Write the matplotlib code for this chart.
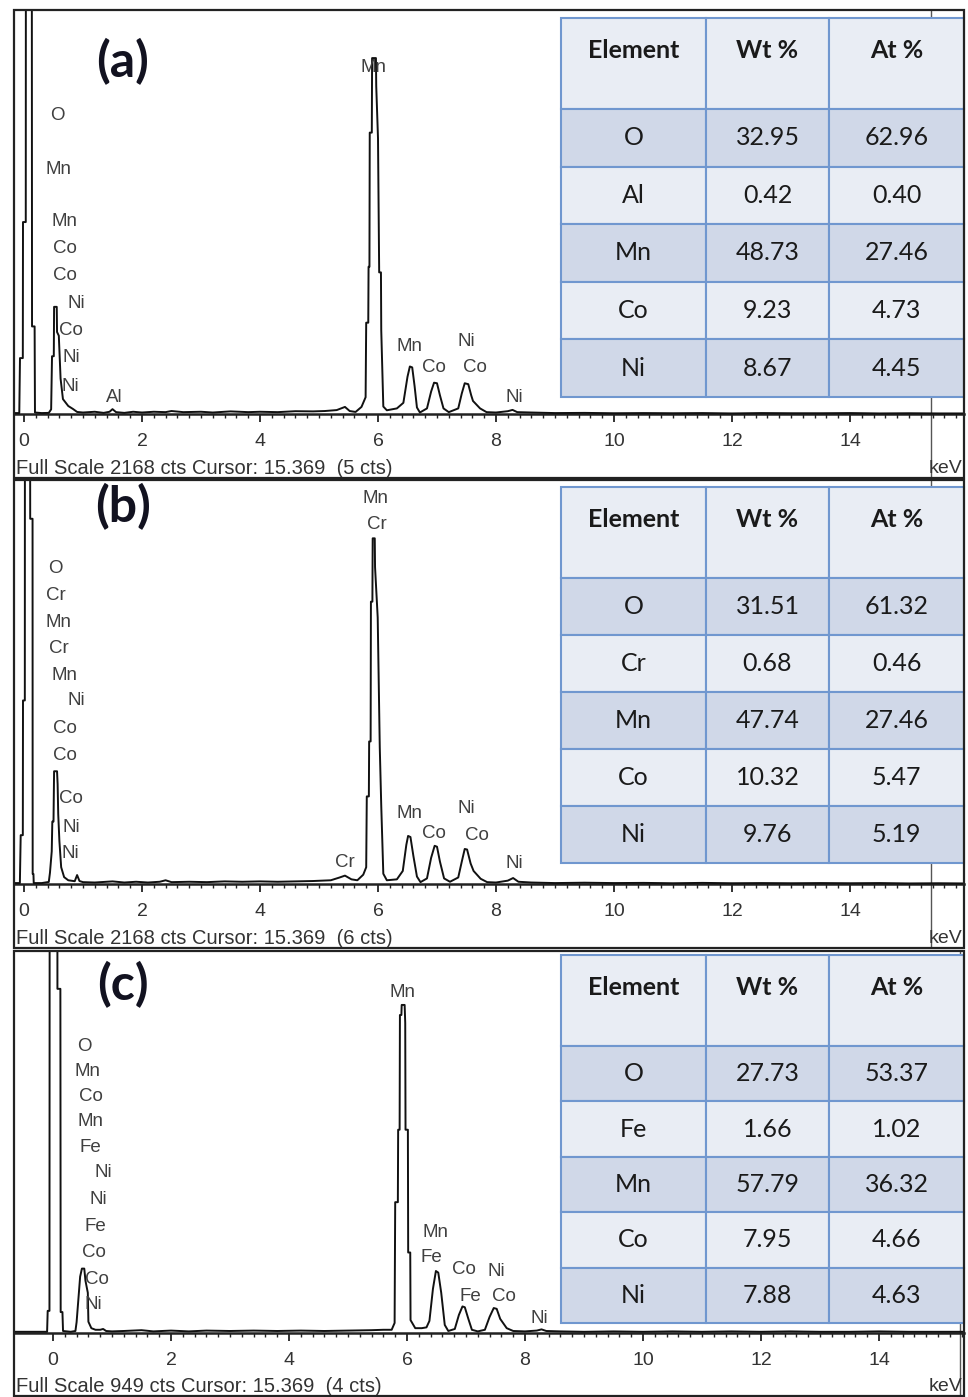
import numpy as np
import matplotlib.pyplot as plt
from matplotlib.patches import Rectangle

# ---- spectrum (a): energy (keV) and counts ----
a_kev = [-0.17, -0.08, -0.068, -0.02, -0.017, 0.03, 0.034, 0.13, 0.136, 0.18,
         0.186, 0.30, 0.42, 0.46, 0.475, 0.505, 0.51, 0.555, 0.56, 0.59,
         0.62, 0.66, 0.75, 0.83, 0.90, 1.0, 1.2, 1.35, 1.45, 1.50,
         1.56, 1.7, 1.85, 2.0, 2.2, 2.4, 2.5, 2.7, 3.0, 3.2,
         3.5, 3.8, 4.0, 4.3, 4.6, 4.9, 5.1, 5.3, 5.44, 5.52,
         5.62, 5.72, 5.79, 5.80, 5.835, 5.84, 5.855, 5.86, 5.895, 5.90,
         5.965, 5.97, 6.00, 6.02, 6.05, 6.055, 6.09, 6.15, 6.32, 6.43,
         6.50, 6.54, 6.58, 6.62, 6.66, 6.71, 6.83, 6.90, 6.95, 7.00,
         7.05, 7.11, 7.20, 7.36, 7.42, 7.47, 7.53, 7.58, 7.61, 7.73,
         7.84, 8.0, 8.2, 8.28, 8.36, 8.6, 9.0, 9.5, 10.0, 10.5,
         11.0, 11.5, 12.0, 12.5, 13.0, 13.5, 14.0, 14.5, 15.0, 15.5,
         15.93]
a_cts = [5, 5, 300, 300, 1030, 1030, 4000, 4000, 470, 470,
         8, 5, 6, 25, 310, 310, 575, 575, 440, 420,
         190, 80, 43, 27, 11, 8, 12, 6, 12, 26,
         10, 6, 12, 8, 12, 10, 16, 10, 12, 8,
         14, 10, 12, 10, 15, 14, 16, 21, 38, 16,
         11, 38, 90, 490, 490, 790, 790, 1510, 1510, 1910,
         1910, 1760, 1480, 760, 760, 450, 40, 20, 30, 60,
         200, 255, 250, 150, 35, 8, 30, 120, 168, 165,
         100, 30, 10, 30, 110, 165, 160, 100, 70, 30,
         10, 8, 15, 22, 10, 8, 5, 6, 4, 5,
         4, 5, 3, 5, 4, 4, 5, 3, 4, 3,
         3]

# ---- spectrum (b) ----
b_kev = [-0.17, -0.07, -0.056, -0.02, -0.017, 0.014, 0.017, 0.10, 0.105, 0.145,
         0.147, 0.16, 0.165, 0.30, 0.42, 0.44, 0.47, 0.48, 0.50, 0.51,
         0.56, 0.57, 0.58, 0.60, 0.63, 0.68, 0.75, 0.86, 0.90, 0.94,
         1.0, 1.2, 1.5, 1.7, 1.9, 2.1, 2.3, 2.4, 2.5, 2.8,
         3.1, 3.4, 3.7, 4.0, 4.3, 4.6, 4.9, 5.2, 5.35, 5.44,
         5.55, 5.65, 5.75, 5.80, 5.81, 5.845, 5.85, 5.875, 5.88, 5.905,
         5.91, 5.945, 5.95, 5.995, 6.03, 6.055, 6.09, 6.15, 6.32, 6.42,
         6.48, 6.51, 6.55, 6.60, 6.66, 6.72, 6.83, 6.90, 6.96, 7.00,
         7.05, 7.12, 7.22, 7.36, 7.42, 7.47, 7.51, 7.57, 7.62, 7.74,
         7.85, 8.0, 8.2, 8.29, 8.38, 8.6, 9.0, 9.5, 10.0, 10.5,
         11.0, 11.5, 12.0, 12.5, 13.0, 13.5, 14.0, 14.5, 15.0, 15.5,
         15.93]
b_cts = [5, 5, 262, 262, 985, 985, 4000, 4000, 1960, 1960,
         54, 54, 5, 5, 11, 60, 175, 335, 335, 605,
         605, 535, 375, 230, 90, 37, 20, 15, 48, 16,
         10, 8, 14, 8, 12, 8, 12, 20, 10, 12,
         10, 14, 12, 14, 12, 14, 16, 20, 35, 45,
         25, 20, 50, 90, 470, 470, 765, 765, 1515, 1515,
         1855, 1855, 1700, 1430, 733, 420, 55, 20, 25, 70,
         210, 258, 252, 150, 40, 10, 30, 140, 205, 200,
         120, 30, 12, 35, 120, 188, 185, 110, 70, 28,
         10, 8, 18, 32, 12, 8, 5, 7, 5, 6,
         4, 6, 4, 5, 4, 5, 4, 5, 3, 4,
         3]

# ---- spectrum (c) ----
c_kev = [-0.66, -0.10, -0.09, -0.06, -0.05, 0.07, 0.075, 0.125, 0.13, 0.16,
         0.17, 0.30, 0.38, 0.40, 0.46, 0.49, 0.53, 0.55, 0.59, 0.60,
         0.65, 0.72, 0.80, 0.85, 0.90, 1.0, 1.2, 1.5, 1.7, 2.0,
         2.3, 2.6, 3.0, 3.4, 3.8, 4.2, 4.6, 5.0, 5.4, 5.6,
         5.74, 5.79, 5.80, 5.845, 5.85, 5.875, 5.88, 5.905, 5.91, 5.96,
         5.97, 5.975, 6.015, 6.02, 6.055, 6.06, 6.14, 6.25, 6.33, 6.38,
         6.44, 6.49, 6.53, 6.58, 6.64, 6.70, 6.81, 6.88, 6.94, 6.98,
         7.04, 7.10, 7.20, 7.32, 7.40, 7.47, 7.52, 7.58, 7.69, 7.80,
         8.0, 8.2, 8.28, 8.36, 8.6, 9.0, 9.5, 10.0, 10.5, 11.0,
         11.5, 12.0, 12.5, 13.0, 13.5, 14.0, 14.5, 15.0, 15.44]
c_cts = [3, 3, 55, 55, 3000, 3000, 855, 855, 52, 52,
         5, 3, 5, 27, 140, 160, 160, 130, 100, 28,
         12, 8, 8, 10, 5, 4, 5, 7, 4, 6,
         4, 6, 5, 6, 5, 6, 5, 6, 7, 8,
         8, 25, 325, 325, 505, 505, 790, 790, 815, 815,
         770, 505, 505, 200, 200, 32, 12, 12, 14, 30,
         110, 154, 150, 100, 20, 5, 10, 45, 66, 64,
         35, 8, 4, 8, 40, 62, 60, 35, 12, 5,
         4, 6, 9, 5, 4, 3, 4, 3, 4, 3,
         4, 3, 4, 3, 3, 4, 3, 3, 3]

# ---- peak labels (text, keV, cts) ----
a_lbl = ['O', 'Mn', 'Mn', 'Co', 'Co', 'Ni', 'Co', 'Ni', 'Ni', 'Al',
         'Mn', 'Mn', 'Co', 'Ni', 'Co', 'Ni']
a_lbl_kev = [0.56, 0.59, 0.68, 0.69, 0.69, 0.88, 0.80, 0.80, 0.78, 1.53,
             5.93, 6.53, 6.95, 7.49, 7.64, 8.31]
a_lbl_cts = [1600, 1310, 1031, 886, 741, 591, 446, 301, 150, 86,
             1858, 360, 252, 387, 247, 91]

b_lbl = ['O', 'Cr', 'Mn', 'Cr', 'Mn', 'Ni', 'Co', 'Co', 'Co', 'Ni', 'Ni',
         'Mn', 'Cr', 'Cr', 'Mn', 'Co', 'Ni', 'Co', 'Ni']
b_lbl_kev = [0.54, 0.54, 0.59, 0.59, 0.68, 0.88, 0.69, 0.69, 0.80, 0.80, 0.78,
             5.95, 5.98, 5.44, 6.53, 6.95, 7.49, 7.68, 8.31]
b_lbl_cts = [1691, 1546, 1402, 1263, 1118, 984, 835, 690, 460, 305, 166,
             2070, 1931, 118, 380, 273, 407, 262, 112]

c_lbl = ['O', 'Mn', 'Co', 'Mn', 'Fe', 'Ni', 'Ni', 'Fe', 'Co', 'Co', 'Ni',
         'Mn', 'Mn', 'Fe', 'Co', 'Ni', 'Fe', 'Co', 'Ni']
c_lbl_kev = [0.54, 0.58, 0.64, 0.64, 0.64, 0.86, 0.76, 0.71, 0.69, 0.74, 0.68,
             5.93, 6.49, 6.42, 6.96, 7.51, 7.08, 7.64, 8.24]
c_lbl_cts = [712, 650, 588, 525, 461, 398, 331, 264, 199, 134, 70,
             847, 249, 187, 157, 152, 90, 90, 37]

# ---- composition tables ----
a_elem = ['O', 'Al', 'Mn', 'Co', 'Ni']
a_wt = [32.95, 0.42, 48.73, 9.23, 8.67]
a_at = [62.96, 0.40, 27.46, 4.73, 4.45]
b_elem = ['O', 'Cr', 'Mn', 'Co', 'Ni']
b_wt = [31.51, 0.68, 47.74, 10.32, 9.76]
b_at = [61.32, 0.46, 27.46, 5.47, 5.19]
c_elem = ['O', 'Fe', 'Mn', 'Co', 'Ni']
c_wt = [27.73, 1.66, 57.79, 7.95, 7.88]
c_at = [53.37, 1.02, 36.32, 4.66, 4.63]

full_scale = [2168, 2168, 949]
cursor_kev = 15.369
cursor_cts = [5, 6, 4]

W, H = 968, 1397
fig = plt.figure(figsize=(W / 100, H / 100), dpi=100)

# layout in pixels: frame top/bottom, baseline, x of 0 keV, table top/bottom
panels = [
    dict(top=10, bottom=478, base=414, x0=24, tab=(18, 397), tag='(a)', tag_y=62,
         kev=a_kev, cts=a_cts, lbl=(a_lbl, a_lbl_kev, a_lbl_cts), tbl=(a_elem, a_wt, a_at)),
    dict(top=480, bottom=948, base=884, x0=24, tab=(487, 863), tag='(b)', tag_y=507,
         kev=b_kev, cts=b_cts, lbl=(b_lbl, b_lbl_kev, b_lbl_cts), tbl=(b_elem, b_wt, b_at)),
    dict(top=951, bottom=1396, base=1333, x0=53, tab=(955, 1323), tag='(c)', tag_y=985,
         kev=c_kev, cts=c_cts, lbl=(c_lbl, c_lbl_kev, c_lbl_cts), tbl=(c_elem, c_wt, c_at)),
]

PX_PER_KEV = 59.0
LEFT, RIGHT = 14, 964

for i, p in enumerate(panels):
    top, bottom, base = p['top'], p['bottom'], p['base']
    ph = bottom - top
    ax = fig.add_axes([LEFT / W, 1 - bottom / H, (RIGHT - LEFT) / W, ph / H])
    full = full_scale[i]
    xmin = (LEFT - p['x0']) / PX_PER_KEV
    xmax = (RIGHT - p['x0']) / PX_PER_KEV

    ax.plot(p['kev'], p['cts'], color='#111111', lw=1.4, zorder=3)
    ax.axvline(cursor_kev, color='#555555', lw=1, zorder=2)

    for s in ['left', 'right', 'top']:
        ax.spines[s].set_visible(False)
    ax.spines['bottom'].set_position(('data', 0))
    ax.spines['bottom'].set_color('#222222')
    ax.spines['bottom'].set_linewidth(1.8)
    ax.set_yticks([])
    ax.set_xticks(np.arange(0, 15, 2))
    minor = np.arange(0, 16, 0.2)
    ax.set_xticks(minor[minor < xmax], minor=True)
    ax.set_xlim(xmin, xmax)
    ax.set_ylim(-full * (bottom - base) / (base - top), full)
    ax.tick_params(axis='x', which='major', direction='out', length=6, width=1.3,
                   pad=8, labelsize=14, labelcolor='#333333', color='#222222')
    ax.tick_params(axis='x', which='minor', direction='out', length=3, width=1,
                   color='#222222')
    for lab in ax.get_xticklabels():
        lab.set_fontfamily('Liberation Sans')

    ax.add_patch(Rectangle((0, 0), 1, 1, transform=ax.transAxes, fill=False,
                           lw=1.6, edgecolor='#222222', clip_on=False, zorder=8))

    # peak labels
    for t, x, y in zip(*p['lbl']):
        ax.text(x, y, t, ha='center', va='center', fontsize=13.5, color='#404040',
                family='Liberation Sans', zorder=4)

    # panel tag
    ax.text((123 - LEFT) / (RIGHT - LEFT), (bottom - p['tag_y']) / ph, p['tag'],
            transform=ax.transAxes, ha='center', va='center', fontsize=36,
            fontweight='bold', family='Lato', color='#121220', zorder=4)

    # footer
    fy = 9.5 / ph
    ax.text(1.5 / (RIGHT - LEFT), fy,
            f'Full Scale {full} cts Cursor: {cursor_kev:.3f}  ({cursor_cts[i]} cts)',
            transform=ax.transAxes, ha='left', va='center', fontsize=14.5,
            color='#333333', family='Liberation Sans')
    ax.text(0.998, fy, 'keV', transform=ax.transAxes, ha='right', va='center',
            fontsize=14, color='#333333', family='Liberation Sans')

    # table
    elem, wt, at = p['tbl']
    cells = [[e, f'{w:.2f}', f'{a:.2f}'] for e, w, a in zip(elem, wt, at)]
    t_top, t_bot = p['tab']
    tx0 = (561 - LEFT) / (RIGHT - LEFT)
    ty0 = (bottom - t_bot) / ph
    ty1 = (bottom - t_top) / ph
    tb = ax.table(cellText=cells, colLabels=['Element\n', 'Wt %\n', 'At %\n'],
                  cellLoc='center', bbox=[tx0, ty0, 1 - tx0, ty1 - ty0])
    tb.set_zorder(6)
    tb.auto_set_font_size(False)
    tb.set_fontsize(18)
    col_w = [145, 124, 135]
    row_h = (t_bot - t_top - 91) / 5
    for (r, c), cell in tb.get_celld().items():
        cell.set_width(col_w[c])
        cell.set_height(91 if r == 0 else row_h)
        cell.set_edgecolor('#7097cf')
        cell.set_linewidth(1.5)
        cell.set_facecolor('#d0d8e8' if r % 2 == 1 else '#e9edf4')
        txt = cell.get_text()
        txt.set_fontfamily('Lato')
        txt.set_color('#1a1a1a')
        if r == 0:
            txt.set_fontweight('bold')

fig.savefig('out.png', dpi=100, facecolor='white')
